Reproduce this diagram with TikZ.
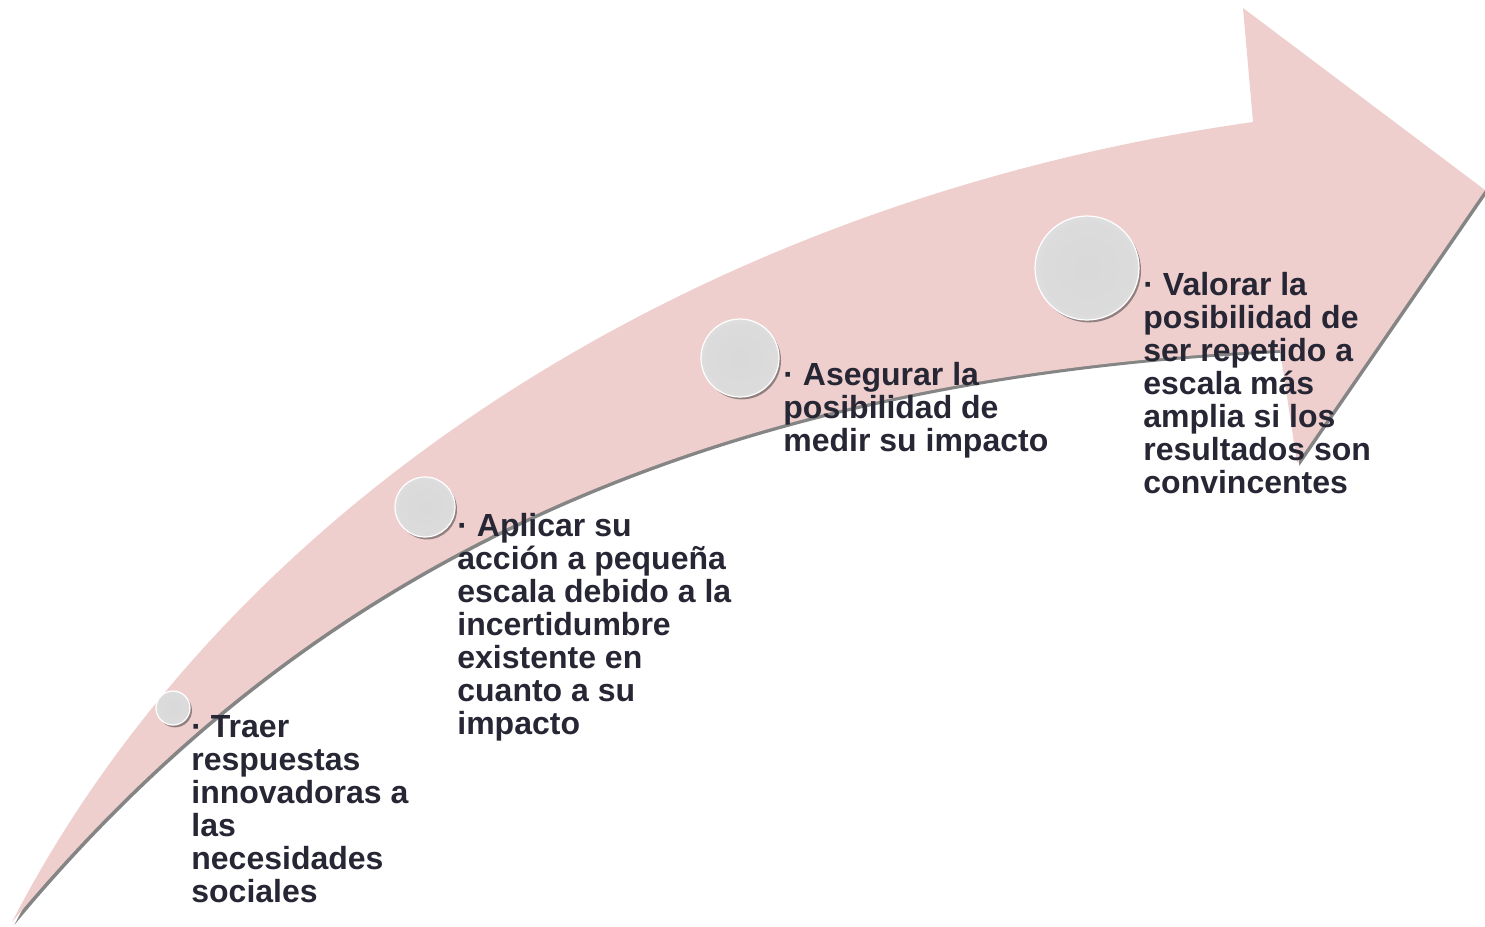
\documentclass[tikz,border=0pt]{standalone}
\usepackage{fontspec}
\setmainfont{Liberation Sans}
\usetikzlibrary{shadows}

\definecolor{arrowpink}{RGB}{238,207,205}
\definecolor{textnavy}{RGB}{38,38,52}
\pgfdeclareradialshading{bubble}{\pgfpoint{0bp}{0bp}}{rgb(0bp)=(.85,.85,.85);rgb(22bp)=(.86,.86,.86);rgb(40bp)=(.94,.94,.94);rgb(50bp)=(.98,.98,.98)}

\begin{document}
\begin{tikzpicture}[x=0.5pt,y=-0.5pt]
      \useasboundingbox (0,0) rectangle (1485,927);

      % the curved arrow
      \path[fill=arrowpink, drop shadow={shadow xshift=1.2pt,shadow yshift=-1.4pt,opacity=.6,fill=black!80}]
        (12,922) .. controls (230,500) and (700,200) .. (1253,122)
        -- (1243,8) -- (1485,190) -- (1297,463) -- (1280,350)
        .. controls (650,380) and (280,600) .. (12,922) -- cycle;

      \begin{scope}[every node/.style={circle,shade,shading=bubble,draw=white,line width=.6pt,inner sep=0,
          drop shadow={shadow xshift=1pt,shadow yshift=-1.2pt,opacity=.5,fill=black!80}}]
        \node[minimum size=17pt] (b1) at (173,708) {};
        \node[minimum size=30pt] (b2) at (425,507) {};
        \node[minimum size=39pt] (b3) at (740,358) {};
        \node[minimum size=52pt] (b4) at (1087,268) {};
      \end{scope}

      \begin{scope}[every node/.style={anchor=north west,inner sep=0,align=left,text=textnavy,
          font=\bfseries\fontsize{16pt}{16.5pt}\selectfont}]
        \node (t1) at (191,715) {· Traer\\respuestas\\innovadoras a\\las\\necesidades\\sociales};
        \node (t2) at (457,513) {· Aplicar su\\acción a pequeña\\escala debido a la\\incertidumbre\\existente en\\cuanto a su\\impacto};
        \node (t3) at (783,362) {· Asegurar la\\posibilidad de\\medir su impacto};
        \node (t4) at (1143,272) {· Valorar la\\posibilidad de\\ser repetido a\\escala más\\amplia si los\\resultados son\\convincentes};
      \end{scope}

    \end{tikzpicture}
\end{document}
